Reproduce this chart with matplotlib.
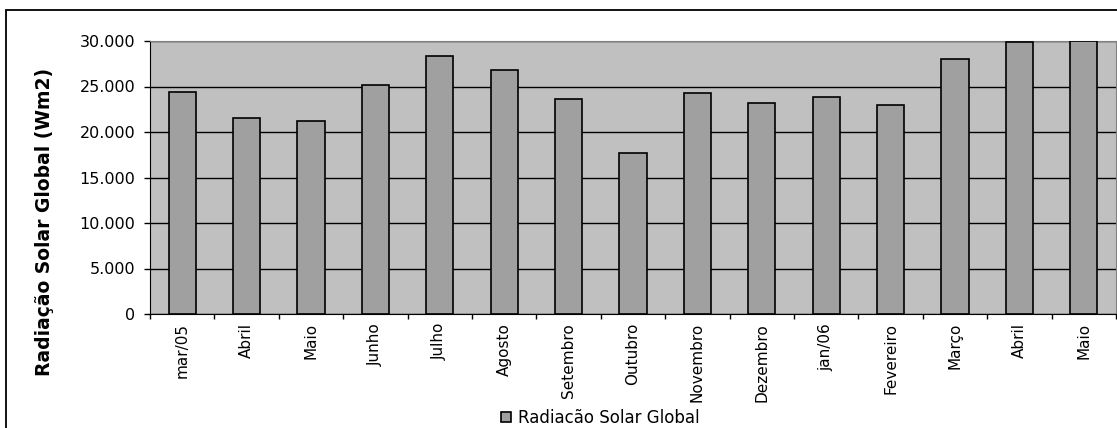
import numpy as np
import matplotlib
matplotlib.use('Agg')
import matplotlib.pyplot as plt
from matplotlib.patches import Rectangle
from matplotlib.ticker import FuncFormatter, FixedLocator

plt.rcParams['font.family'] = ['DejaVu Sans']

# monthly values
months = ['mar/05', 'Abril', 'Maio', 'Junho', 'Julho', 'Agosto', 'Setembro',
          'Outubro', 'Novembro', 'Dezembro', 'jan/06', 'Fevereiro', 'Março',
          'Abril', 'Maio']
radiacao = [24450, 21550, 21250, 25200, 28300, 26800, 23600,
            17700, 24300, 23200, 23800, 23000, 28000, 29850, 30000]
y_ticks = [0, 5000, 10000, 15000, 20000, 25000, 30000]

W, H = 1117, 428
fig = plt.figure(figsize=(W / 100, H / 100), dpi=100)
ax = fig.add_axes([150 / W, (H - 314) / H, (1116 - 150) / W, (314 - 41) / H])

x = np.arange(len(months))
ax.set_facecolor('#c0c0c0')
ax.bar(x, radiacao, width=0.42, color='#a0a0a0', edgecolor='black', lw=1.2,
       zorder=3, label='Radiacão Solar Global')

ax.set_xlim(-0.5, len(months) - 0.5)
ax.set_ylim(0, 30000)
ax.set_yticks(y_ticks)
ax.yaxis.set_major_formatter(FuncFormatter(lambda v, p: f'{int(v):,}'.replace(',', '.')))
ax.grid(axis='y', color='black', lw=1, zorder=1)

# category labels centred, ticks on the boundaries
ax.set_xticks(x)
ax.set_xticklabels(months, rotation=90, fontsize=11, va='top')
ax.tick_params(axis='x', which='major', length=0, pad=6.5)
ax.xaxis.set_minor_locator(FixedLocator(np.arange(-0.5, len(months), 1)))
ax.tick_params(axis='x', which='minor', length=3.5, width=1)
ax.tick_params(axis='y', length=4.5, width=1, labelsize=11.5, pad=6)

for s in ['top', 'right']:
    ax.spines[s].set_color('#808080')
for s in ['left', 'bottom']:
    ax.spines[s].set_color('black')

fig.text(45 / W, 1 - 222 / H, 'Radiação Solar Global (Wm2)', rotation=90,
         fontsize=13.5, fontweight='bold', ha='center', va='center')

ax.legend(loc='center', bbox_to_anchor=(600 / W, 1 - 418 / H),
          bbox_transform=fig.transFigure, frameon=False, fontsize=12,
          handlelength=0.6, handleheight=0.6, handletextpad=0.4,
          borderpad=0, borderaxespad=0)

# outer chart border (right and bottom edges fall outside the image)
fig.patches.append(Rectangle((6 / W, -0.05), 1.1, 1 - 10 / H + 0.05,
                             transform=fig.transFigure, fill=False,
                             edgecolor='black', lw=1.3))

fig.savefig('out.png', dpi=100)
